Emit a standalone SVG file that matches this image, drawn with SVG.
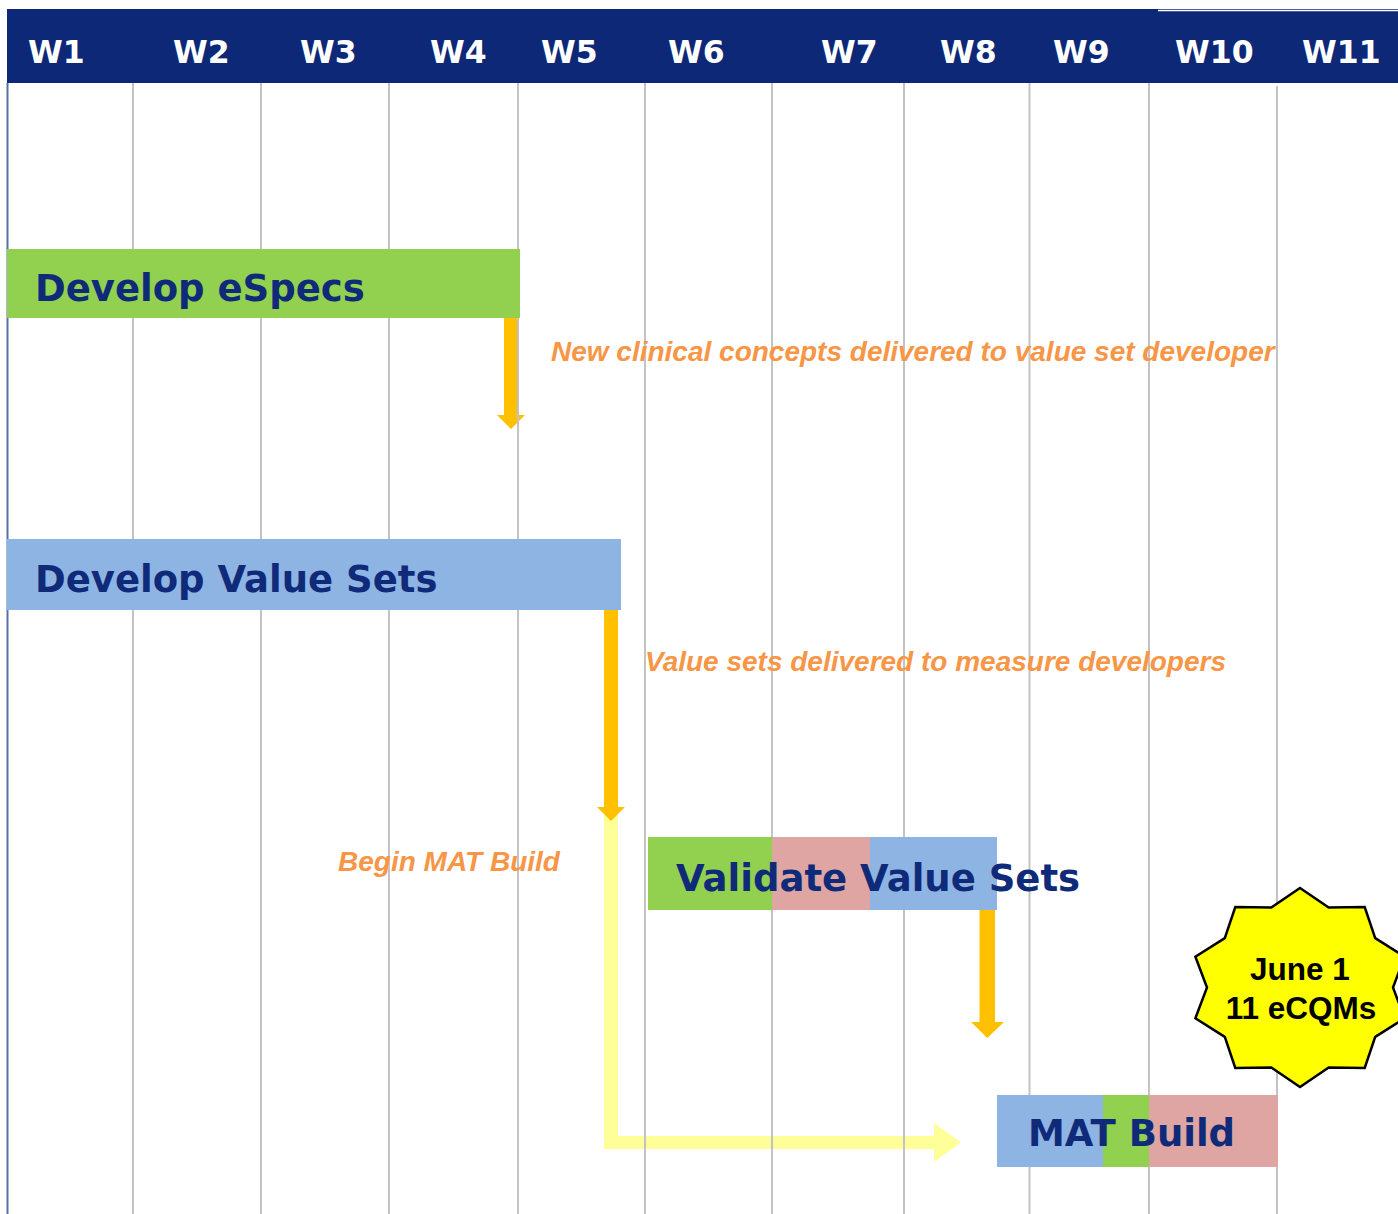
<svg xmlns="http://www.w3.org/2000/svg" width="1398" height="1214" viewBox="0 0 1398 1214">
<style>
.hdr{font-family:"DejaVu Sans",Verdana,sans-serif;font-weight:bold;font-size:31.5px;fill:#ffffff}
.bar{font-family:"DejaVu Sans",Verdana,sans-serif;font-weight:bold;font-size:37px;fill:#102a7a}
.note{font-family:"Liberation Sans",Arial,sans-serif;font-weight:bold;font-style:italic;font-size:28px;fill:#f79646}
.grid{stroke:#c3c3c3;stroke-width:2}
.star{font-family:"Liberation Sans",Arial,sans-serif;font-weight:bold;font-size:31.5px;fill:#000000}
.green{fill:#92d050}.blue{fill:#8eb4e3}.pink{fill:#dea5a3}
.orange{fill:#ffc000}.pale{fill:#ffff99}
</style>
<rect width="1398" height="1214" fill="#ffffff"/>
<g id="header">
<rect x="7" y="9" width="1391" height="74" fill="#0e2878"/>
<line x1="1158" y1="10.5" x2="1398" y2="10.5" stroke="#ffffff" stroke-width="1.5"/>
<text class="hdr" x="28" y="63">W1</text>
<text class="hdr" x="173" y="63">W2</text>
<text class="hdr" x="300" y="63">W3</text>
<text class="hdr" x="430" y="63">W4</text>
<text class="hdr" x="541" y="63">W5</text>
<text class="hdr" x="668" y="63">W6</text>
<text class="hdr" x="821" y="63">W7</text>
<text class="hdr" x="940" y="63">W8</text>
<text class="hdr" x="1053" y="63">W9</text>
<text class="hdr" x="1175" y="63">W10</text>
<text class="hdr" x="1302" y="63">W11</text>
</g>
<g id="connectors">
<polygon class="pale" points="604,815 618,815 618,1136 934,1136 934,1123 961,1142.5 934,1162 934,1149 604,1149"/>
<polygon class="orange" points="504,318 518,318 518,415 525,415 511,429 497,415 504,415"/>
<polygon class="orange" points="604,610 618,610 618,807 625,807 611,821 597,807 604,807"/>
<polygon class="orange" points="979.5,910 995,910 995,1022 1004,1022 987.3,1038 971,1022 979.5,1022"/>
</g>
<g id="grid">
<line x1="7.5" y1="83" x2="7.5" y2="1214" stroke="#5b6eab" stroke-width="2"/>
<line class="grid" x1="133" y1="83" x2="133" y2="1214"/>
<line class="grid" x1="261" y1="83" x2="261" y2="1214"/>
<line class="grid" x1="389" y1="83" x2="389" y2="1214"/>
<line class="grid" x1="518" y1="83" x2="518" y2="1214"/>
<line class="grid" x1="645" y1="83" x2="645" y2="1214"/>
<line class="grid" x1="772" y1="83" x2="772" y2="1214"/>
<line class="grid" x1="904" y1="83" x2="904" y2="1214"/>
<line class="grid" x1="1029.5" y1="83" x2="1029.5" y2="1214"/>
<line class="grid" x1="1149" y1="83" x2="1149" y2="1214"/>
<line class="grid" x1="1277" y1="86" x2="1277" y2="1214"/>
</g>
<g id="develop-especs">
<rect class="green" x="7" y="249" width="513" height="69"/>
<text class="bar" x="35" y="301">Develop eSpecs</text>
</g>
<g id="note-concepts">
<text class="note" x="551" y="361">New clinical concepts delivered to value set developer</text>
</g>
<g id="develop-value-sets">
<rect class="blue" x="7" y="539" width="614" height="71"/>
<text class="bar" x="35" y="592">Develop Value Sets</text>
</g>
<g id="note-value-sets">
<text class="note" x="645" y="671">Value sets delivered to measure developers</text>
</g>
<g id="note-begin">
<text class="note" x="338" y="871">Begin MAT Build</text>
</g>
<g id="validate-value-sets">
<rect class="green" x="648" y="837" width="124" height="73"/>
<rect class="pink" x="772" y="837" width="98" height="73"/>
<rect class="blue" x="870" y="837" width="127" height="73"/>
<text class="bar" x="676" y="891">Validate Value Sets</text>
</g>
<g id="mat-build">
<rect class="blue" x="997" y="1095" width="106" height="72"/>
<rect class="green" x="1103" y="1095" width="46" height="72"/>
<rect class="pink" x="1149" y="1095" width="129" height="72"/>
<text class="bar" x="1028" y="1146">MAT Build</text>
</g>
<g id="june-star">
<polygon points="1300,888 1328.7,907.6 1364.7,907 1375.2,938.1 1404.6,956.8 1393,987.5 1404.6,1018.2 1375.2,1036.9 1364.7,1068 1328.7,1067.4 1300,1087 1271.3,1067.4 1235.3,1068 1224.8,1036.9 1195.4,1018.2 1207,987.5 1195.4,956.8 1224.8,938.1 1235.3,907 1271.3,907.6" fill="#ffff00" stroke="#000000" stroke-width="2.5" stroke-linejoin="miter"/>
<text class="star" x="1300" y="980" text-anchor="middle">June 1</text>
<text class="star" x="1301" y="1019" text-anchor="middle">11 eCQMs</text>
</g>
</svg>
